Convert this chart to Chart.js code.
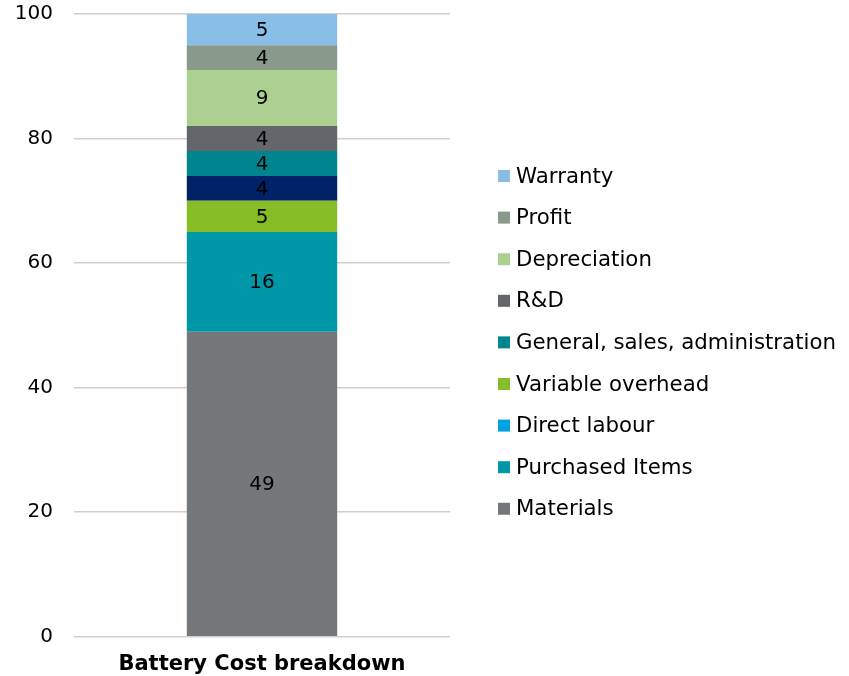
<!DOCTYPE html>
<html>
<head>
<meta charset="utf-8">
<script src="https://cdn.jsdelivr.net/npm/chart.js@4/dist/chart.umd.min.js"></script>
<style>
  html, body { margin: 0; padding: 0; background: #fff; }
  #wrap { width: 849px; height: 676px; position: relative; }
</style>
</head>
<body>
<div id="wrap"><canvas id="chart"></canvas></div>
<script>
// data, stacked bottom to top as drawn in the bar
const categories = ["Battery Cost breakdown"];
const seriesNames = ["Materials", "Purchased Items", "Variable overhead", "Direct labour",
  "General, sales, administration", "R&D", "Depreciation", "Profit", "Warranty"];
const seriesValues = [49, 16, 5, 4, 4, 4, 9, 4, 5];
const barColors = ["#75787b", "#0097a9", "#86bc25", "#012169", "#00858f",
  "#63666a", "#abd08f", "#899a8d", "#89bee8"];
// legend swatches (source legend shows Direct labour in light blue)
const legendColors = ["#75787b", "#0097a9", "#86bc25", "#00a3e0", "#00858f",
  "#63666a", "#abd08f", "#899a8d", "#89bee8"];
// top-to-bottom order used by the legend
const legendOrder = ["Warranty", "Profit", "Depreciation", "R&D", "General, sales, administration",
  "Variable overhead", "Direct labour", "Purchased Items", "Materials"];
const yTicks = [0, 20, 40, 60, 80, 100];

const FONT = "'DejaVu Sans', Verdana, sans-serif";

/* -------------------------------
   VALUE LABELS
--------------------------------*/
const valueLabels = {
  id: "valueLabels",
  afterDatasetsDraw(chart) {
    const ctx = chart.ctx;
    ctx.save();
    ctx.font = "20px " + FONT;
    ctx.fillStyle = "#000";
    ctx.textAlign = "center";
    ctx.textBaseline = "middle";
    chart.data.datasets.forEach((ds, i) => {
      const meta = chart.getDatasetMeta(i);
      meta.data.forEach((bar, j) => {
        const v = ds.data[j];
        if (!v) return;
        ctx.fillText(String(v), bar.x, (bar.y + bar.base) / 2 + 1);
      });
    });
    ctx.restore();
  }
};

/* -------------------------------
   LEGEND (right side, drawn on canvas)
--------------------------------*/
const sideLegend = {
  id: "sideLegend",
  afterDraw(chart) {
    const ctx = chart.ctx;
    const area = chart.chartArea;
    const x = area.right + 48;
    const step = 41.6;
    const mid = (area.top + area.bottom) / 2 + 17;
    const y0 = mid - step * (legendOrder.length - 1) / 2;
    ctx.save();
    ctx.font = "21.3px " + FONT;
    ctx.textBaseline = "middle";
    legendOrder.forEach((name, k) => {
      const i = seriesNames.indexOf(name);
      const y = y0 + k * step;
      ctx.fillStyle = legendColors[i];
      ctx.fillRect(x, y - 6, 12, 12);
      ctx.fillStyle = "#000";
      ctx.fillText(name, x + 18, y + 1);
    });
    ctx.restore();
  }
};

const datasets = seriesNames.map((name, i) => ({
  label: name,
  data: [seriesValues[i]],
  backgroundColor: barColors[i],
  borderWidth: 0,
  barPercentage: 0.8,
  categoryPercentage: 0.5
}));

new Chart(document.getElementById("chart"), {
  type: "bar",
  data: { labels: categories, datasets },
  options: {
    responsive: true,
    maintainAspectRatio: false,
    animation: false,
    layout: { padding: { top: 14, left: 0, right: 399, bottom: -8 } },
    plugins: {
      tooltip: { enabled: false },
      legend: { display: false }
    },
    scales: {
      x: {
        stacked: true,
        grid: { display: false },
        border: { display: false },
        ticks: { color: "#000", font: { family: FONT, size: 21, weight: "bold" }, padding: 7 }
      },
      y: {
        stacked: true,
        min: 0,
        max: 100,
        afterBuildTicks(axis) { axis.ticks = yTicks.map(v => ({ value: v })); },
        afterFit(axis) { axis.paddingTop = 0; axis.width = 74; },
        grid: { color: "#cfcfcf", lineWidth: 1.5, drawTicks: false },
        border: { display: false },
        ticks: { color: "#000", font: { family: FONT, size: 20 }, padding: 21 }
      }
    }
  },
  plugins: [valueLabels, sideLegend]
});
</script>
</body>
</html>
